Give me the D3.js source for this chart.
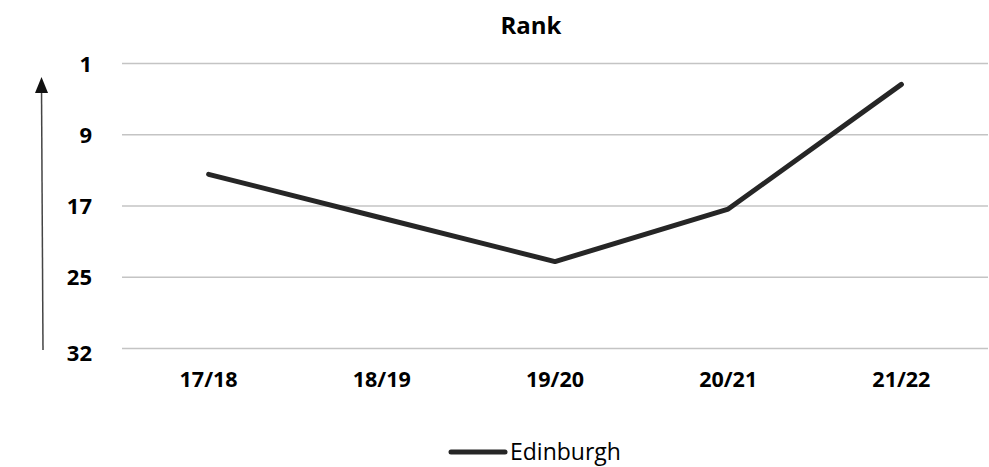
<!DOCTYPE html>
<html>
<head>
<meta charset="utf-8">
<script src="https://cdn.jsdelivr.net/npm/d3@7"></script>
<style>
  body { margin: 0; background: #fff; }
  text { font-family: "Open Sans", "Liberation Sans", sans-serif; }
</style>
</head>
<body>
<div id="chart"></div>
<script>
  // datos
  var seasons = ["17/18", "18/19", "19/20", "20/21", "21/22"];
  var edinburgh = [13.5, 18.4, 23.3, 17.4, 3.4];
  var tickValues = [1, 9, 17, 25, 33];
  var tickLabels = ["1", "9", "17", "25", "32"];
  var seriesName = "Edinburgh";

  var width = 989, height = 467;
  var margin = {top: 63, right: 1, bottom: 119, left: 122};

  var svg = d3.select("#chart")
    .append("svg")
      .attr("width", width)
      .attr("height", height);

  var x = d3.scaleBand()
    .domain(seasons)
    .range([margin.left, width - margin.right]);

  // rango invertido: 1 arriba
  var y = d3.scaleLinear()
    .domain([1, 33])
    .range([margin.top, height - margin.bottom]);

  // lineas de la cuadricula
  svg.append("g")
    .call(d3.axisLeft(y).tickValues(tickValues).tickSize(-(width - margin.left - margin.right)).tickFormat(""))
    .attr("transform", "translate(" + margin.left + ",0)")
    .call(function(g) {
      g.select(".domain").remove();
      g.selectAll(".tick line").attr("stroke", "#c4c4c4").attr("stroke-width", 1.4);
    });

  // etiquetas eje y
  svg.append("g")
    .selectAll("text")
    .data(tickValues)
    .enter().append("text")
      .attr("x", 92)
      .attr("y", function(d) { return y(d) + (d == 33 ? 5 : 1); })
      .attr("dy", "0.35em")
      .attr("text-anchor", "end")
      .style("font-size", "22px")
      .style("font-weight", "bold")
      .style("fill", "#000")
      .text(function(d, i) { return tickLabels[i]; });

  // etiquetas eje x
  svg.append("g")
    .selectAll("text")
    .data(seasons)
    .enter().append("text")
      .attr("x", function(d) { return x(d) + x.bandwidth() / 2; })
      .attr("y", 387)
      .attr("text-anchor", "middle")
      .style("font-size", "21.5px")
      .style("font-weight", "bold")
      .style("fill", "#000")
      .text(function(d) { return d; });

  // la linea
  var line = d3.line()
    .x(function(d, i) { return x(seasons[i]) + x.bandwidth() / 2; })
    .y(function(d) { return y(d); });

  svg.append("path")
    .datum(edinburgh)
    .attr("d", line)
    .style("fill", "none")
    .style("stroke", "#262626")
    .style("stroke-width", 5)
    .style("stroke-linecap", "round")
    .style("stroke-linejoin", "round");

  // titulo
  svg.append("text")
    .attr("x", 531)
    .attr("y", 34)
    .attr("text-anchor", "middle")
    .style("font-size", "24px")
    .style("font-weight", "bold")
    .style("fill", "#000")
    .text("Rank");

  // flecha de la izquierda
  svg.append("line")
    .attr("x1", 43).attr("y1", 350)
    .attr("x2", 41.5).attr("y2", 87)
    .style("stroke", "#444")
    .style("stroke-width", 1.5);

  svg.append("path")
    .attr("d", "M41.5,77 L48,93 L35,93 Z")
    .style("fill", "#111");

  // leyenda
  var legend = svg.append("g").attr("transform", "translate(0,452)");
  legend.append("line")
    .attr("x1", 451).attr("x2", 505)
    .attr("y1", 0).attr("y2", 0)
    .style("stroke", "#262626")
    .style("stroke-width", 5)
    .style("stroke-linecap", "round");
  legend.append("text")
    .attr("x", 510)
    .attr("y", 8)
    .style("font-size", "23px")
    .style("fill", "#000")
    .text(seriesName);
</script>
</body>
</html>
